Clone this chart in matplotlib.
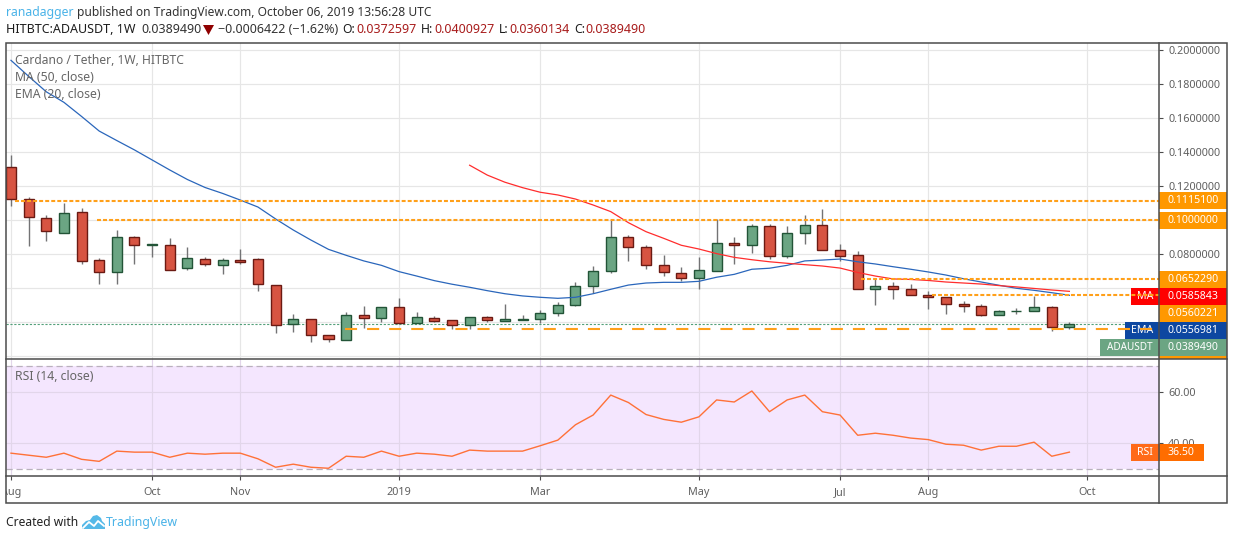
import matplotlib
matplotlib.use('Agg')
import matplotlib.pyplot as plt
from matplotlib.patches import Rectangle, Polygon

plt.rcParams['font.family'] = ['Noto Sans', 'DejaVu Sans']

# weekly candles
open_ = [.1312, .1124, .1012, .0924, .1047, .0765, .0694, .0900, .0857, .0853,
         .0718, .0771, .0735, .0766, .0771, .0618, .0388, .0418, .0324, .0294,
         .0441, .0424, .0488, .0394, .0424, .0412, .0382, .0429, .0409, .0414,
         .0418, .0453, .0500, .0612, .0700, .0900, .0841, .0735, .0688, .0659,
         .0700, .0865, .0853, .0965, .0788, .0924, .0971, .0824, .0794, .0594,
         .0612, .0594, .0559, .0547, .0506, .0494, .0441, .0465, .0465, .0488,
         .0372597]
high = [.1384, .1135, .1031, .1104, .1071, .0776, .0943, .0908, .0859, .0894,
        .0843, .0782, .0776, .0831, .0776, .0618, .0447, .0418, .0324, .0459,
        .0494, .0488, .0541, .0459, .0437, .0412, .0429, .0437, .0508, .0443,
        .0471, .0518, .0637, .0731, .1000, .0912, .0853, .0794, .0725, .0782,
        .1006, .0900, .0976, .0976, .0965, .1031, .1066, .0861, .0821, .0653,
        .0639, .0625, .0582, .0547, .0524, .0506, .0471, .0482, .0556, .0494,
        .0400927]
low = [.1086, .0851, .0880, .0924, .0745, .0627, .0627, .0745, .0786, .0706,
       .0708, .0733, .0686, .0745, .0586, .0339, .0345, .0286, .0286, .0294,
       .0365, .0404, .0394, .0394, .0400, .0361, .0361, .0404, .0409, .0414,
       .0398, .0439, .0494, .0572, .0692, .0761, .0714, .0672, .0643, .0598,
       .0700, .0745, .0809, .0774, .0780, .0859, .0824, .0762, .0594, .0504,
       .0539, .0559, .0476, .0451, .0462, .0435, .0441, .0447, .0465, .0351,
       .0360134]
close = [.1124, .1018, .0935, .1041, .0759, .0694, .0900, .0853, .0859, .0706,
         .0776, .0741, .0765, .0756, .0624, .0382, .0418, .0324, .0300, .0441,
         .0424, .0488, .0394, .0429, .0406, .0382, .0429, .0412, .0418, .0418,
         .0453, .0500, .0612, .0700, .0900, .0841, .0735, .0694, .0659, .0706,
         .0865, .0853, .0965, .0788, .0924, .0971, .0824, .0792, .0594, .0612,
         .0594, .0559, .0547, .0506, .0494, .0441, .0465, .0466, .0488, .0371,
         .0389490]

# blue line, legend says EMA 20
ema = [.1941, .1847, .1756, .1694, .1611, .1525, .1469, .1414, .1355, .1296,
       .1240, .1193, .1158, .1119, .1078, .1008, .0943, .0884, .0829, .0794,
       .0761, .0735, .0698, .0672, .0645, .0624, .0606, .0586, .0568, .0555,
       .0547, .0541, .0547, .0568, .0594, .0619, .0631, .0635, .0635, .0641,
       .0665, .0682, .0712, .0718, .0735, .0761, .0766, .0772, .0756, .0743,
       .0727, .0712, .0696, .0678, .0656, .0637, .0618, .0600, .0588, .0574,
       .0559]
# red line, MA 50, begins at week 26
ma_start = 26
ma = [.1324, .1266, .1224, .1192, .1165, .1149, .1125, .1090, .1051, .0986,
      .0933, .0894, .0853, .0831, .0804, .0782, .0768, .0756, .0747, .0739,
      .0731, .0719, .0693, .0672, .0655, .0652, .0646, .0637, .0631, .0625,
      .0616, .0608, .0599, .0590, .0582]
rsi = [36.1, 35.3, 34.5, 36.1, 33.7, 32.9, 36.9, 36.5, 36.5, 34.5,
       36.1, 35.7, 36.1, 36.1, 33.9, 30.6, 31.8, 30.6, 30.2, 34.9,
       34.5, 36.9, 34.9, 36.1, 35.7, 34.9, 37.3, 36.9, 36.9, 36.9,
       39.0, 41.2, 47.2, 51.0, 58.8, 55.9, 51.2, 49.3, 48.2, 50.3,
       56.9, 56.1, 60.4, 52.3, 56.9, 58.8, 52.3, 51.0, 43.1, 43.9,
       43.1, 42.0, 41.4, 39.6, 39.2, 37.3, 38.8, 38.8, 40.4, 34.9,
       36.5]

# levels drawn on the chart: value, first week
dotted_levels = [0.1115100, 0.1000000, 0.0652290, 0.0560221]
dotted_starts = [0.2, 4.9, 48.2, 52.2]
dashed_level = 0.0360
dashed_start = 18.93
last_price = 0.0389490

price_ticks = [.02, .04, .06, .08, .10, .12, .14, .16, .18, .20]
# the low ticks and 0.10 are covered by value tags in the picture
price_labels = ['', '', '', '0.0800000', '', '0.1200000', '0.1400000', '0.1600000', '0.1800000', '0.2000000']
rsi_ticks = [40, 60]
time_ticks = [0, 8, 13, 22, 30, 39, 47, 52, 61]
time_labels = ['Aug', 'Oct', 'Nov', '2019', 'Mar', 'May', 'Jul', 'Aug', 'Oct']

GRID = '#e6e6e6'
TICK = '#5f5f5f'
FRAME = '#4c4c4c'
ORANGE = '#ff9800'
UP, UP_EDGE = '#6ba583', '#225437'
DOWN, DOWN_EDGE = '#d75442', '#6b1a13'

fig = plt.figure(figsize=(12.34, 5.40), dpi=100)


def pane(x0, y0, x1, y1):
    # pixel box (y counted from the top) to axes
    return fig.add_axes([x0 / 1234, 1 - y1 / 540, (x1 - x0) / 1234, (y1 - y0) / 540])


ax = pane(6, 43, 1159, 359)
ax_rsi = pane(6, 359, 1159, 476.3)
over = fig.add_axes([0, 0, 1, 1], zorder=10)
over.set_xlim(0, 1234)
over.set_ylim(540, 0)
over.axis('off')

weeks = list(range(len(close)))
xlim = (-0.283, 65.08)

# price pane
for i in weeks:
    up = close[i] >= open_[i]
    ax.vlines(i, low[i], high[i], color='#737375', lw=1.0, zorder=3)
    ax.bar(i, abs(close[i] - open_[i]), bottom=min(open_[i], close[i]), width=0.57,
           color=UP if up else DOWN, edgecolor=UP_EDGE if up else DOWN_EDGE,
           linewidth=1.0, zorder=4)
ax.plot(weeks, ema, color='#2a66bb', lw=0.9, zorder=5)
ax.plot(weeks[ma_start:], ma, color='#ff2d2d', lw=0.9, zorder=5)
for lev, start in zip(dotted_levels, dotted_starts):
    ax.hlines(lev, start, xlim[1], color='#ffa01a', lw=1.5, linestyles=(0, (1.9, 1.0)), zorder=6)
ax.hlines(dashed_level, dashed_start, xlim[1], color='#ffa01a', lw=1.5,
          linestyles=(0, (5.8, 4.8)), zorder=6)
ax.axhline(last_price, color='#53a07a', lw=0.8, linestyle=(0, (2, 1.5)), zorder=2)

ax.set_xlim(*xlim)
ax.set_ylim(0.0184, 0.2043)
ax.set_yticks(price_ticks)
ax.set_yticklabels(price_labels)
ax.yaxis.tick_right()
ax.set_xticks(time_ticks)
ax.grid(True, color=GRID, lw=0.85)
ax.set_axisbelow(True)
ax.tick_params(axis='x', length=0, labelbottom=False)
ax.tick_params(axis='y', length=3, width=0.8, color=FRAME, pad=3.5, labelsize=7.8, labelcolor=TICK)
for s in ax.spines.values():
    s.set_visible(False)

# tags sitting inside the pane, under the level lines
for label, left, color, size in [('MA', 1131, '#ff0000', 7.6), ('EMA', 1125, '#0d47a1', 7.6), ('ADAUSDT', 1100, UP, 7.2)]:
    y0 = {'MA': 288, 'EMA': 322, 'ADAUSDT': 339}[label]
    ax.add_patch(Rectangle((left, y0), 1159 - left, 17, color=color, lw=0, zorder=5.5,
                           transform=over.transData, clip_on=False))
    ax.text(1153, y0 + 8.5, label, color='white', fontsize=size, ha='right',
            va='center', transform=over.transData, zorder=5.6)

# rsi pane
ax_rsi.axhspan(30, 70, color='#f4e6fe', lw=0, zorder=0)
ax_rsi.plot(weeks, rsi, color='#ff7138', lw=1.0, zorder=4)
ax_rsi.axhline(70, color='#b9b0bd', lw=0.9, linestyle=(0, (5, 3)), zorder=2)
ax_rsi.axhline(30, color='#b9b0bd', lw=0.9, linestyle=(0, (5, 3)), zorder=2)
ax_rsi.set_xlim(*xlim)
ax_rsi.set_ylim(27.06, 72.9)
ax_rsi.set_yticks(rsi_ticks)
ax_rsi.set_yticklabels(['%.2f' % t for t in rsi_ticks])
ax_rsi.yaxis.tick_right()
ax_rsi.set_xticks(time_ticks)
ax_rsi.set_xticklabels(time_labels)
ax_rsi.grid(True, color='#e2d6ea', lw=0.85, zorder=1)
ax_rsi.set_axisbelow(True)
ax_rsi.tick_params(axis='x', length=3, width=0.8, color=FRAME, pad=5, labelsize=7.8, labelcolor=TICK)
ax_rsi.tick_params(axis='y', length=3, width=0.8, color=FRAME, pad=3.5, labelsize=7.8, labelcolor=TICK)
for s in ax_rsi.spines.values():
    s.set_visible(False)

# value tags on the right axis
tag_rows = [('0.1115100', 192, ORANGE), ('0.1000000', 212, ORANGE), ('0.0652290', 271, ORANGE),
            ('0.0585843', 288, '#ff0000'), ('0.0560221', 305, ORANGE), ('0.0556981', 322, '#0d47a1'),
            ('0.0389490', 339, UP)]
over.add_patch(Rectangle((1159, 355), 68, 4, color=ORANGE, lw=0))
for txt, y0, color in tag_rows:
    over.add_patch(Rectangle((1159, y0), 68, 17, color=color, lw=0))
    over.text(1167.5, y0 + 8.3, txt, color='white', fontsize=7.6, weight='bold', va='center')

# rsi tag
over.add_patch(Rectangle((1131, 444), 28, 17, color='#ff6a18', lw=0))
over.add_patch(Rectangle((1159, 444), 45, 17, color='#ff6d00', lw=0))
over.text(1145, 452.5, 'RSI', color='white', fontsize=7.6, ha='center', va='center')
over.text(1167.5, 452.5, '36.50', color='white', fontsize=7.6, weight='bold', va='center')

# frame, white strip clips the first Aug label
over.add_patch(Rectangle((0, 478), 6, 24, color='white', lw=0))
over.add_patch(Rectangle((6, 43), 1221, 460, fill=False, ec=FRAME, lw=1.1))
over.plot([6, 1227], [359, 359], color=FRAME, lw=1.1)
over.plot([6, 1227], [476.3, 476.3], color=FRAME, lw=1.1)
over.plot([1159, 1159], [43, 503], color=FRAME, lw=1.1)

# pane legends
over.text(15, 60.5, 'Cardano / Tether, 1W, HITBTC', color='#666666', fontsize=8.7, weight='bold', va='center')
over.text(15, 77.5, 'MA (50, close)', color='#666666', fontsize=8.8, va='center')
over.text(15, 94.5, 'EMA (20, close)', color='#666666', fontsize=8.8, va='center')
over.text(15, 376.5, 'RSI (14, close)', color='#666666', fontsize=8.8, va='center')

# header
over.text(6, 12.5, 'ranadagger', color='#4ab3e8', fontsize=8.8, va='center')
over.text(77, 12.5, 'published on TradingView.com, October 06, 2019 13:56:28 UTC', color='#333333',
          fontsize=8.66, va='center')
over.text(6, 29.5, 'HITBTC:ADAUSDT, 1W', color='#1c1c1c', fontsize=9, weight='bold', va='center')
over.text(141, 29.5, '0.0389490', color='#333333', fontsize=9, va='center')
over.add_patch(Polygon([(203, 25), (214, 25), (208.5, 35)], color='#8f0000', lw=0))
over.text(218, 29.5, '\u22120.0006422 (\u22121.62%)', color='#333333', fontsize=9, va='center')
head_x = [(342, 'O:', 356, '0.0372597'), (420.7, 'H:', 434.3, '0.0400927'),
          (499, 'L:', 509.3, '0.0360134'), (574, 'C:', 585.3, '0.0389490')]
for x0, key, x1, val in head_x:
    over.text(x0, 29.5, key, color='#1c1c1c', fontsize=8.8, weight='bold', va='center')
    over.text(x1, 29.5, val, color='#a81c1c', fontsize=9, va='center')

# footer with logo
over.text(6, 522.5, 'Created with', color='#222222', fontsize=8.7, va='center')
over.add_patch(Polygon([(82, 529), (82, 525), (86, 521), (90, 520), (93, 516), (97, 515), (101, 518),
                        (102, 521), (105, 524), (105, 529)], color='#55b9e8', lw=0))
over.plot([83, 89, 94, 98, 104], [528, 522, 526, 521, 526], color='white', lw=1.3)
over.text(106, 522.5, 'TradingView', color='#4ab3e8', fontsize=8.9, va='center')

fig.savefig('out.png', dpi=100, facecolor='white')
